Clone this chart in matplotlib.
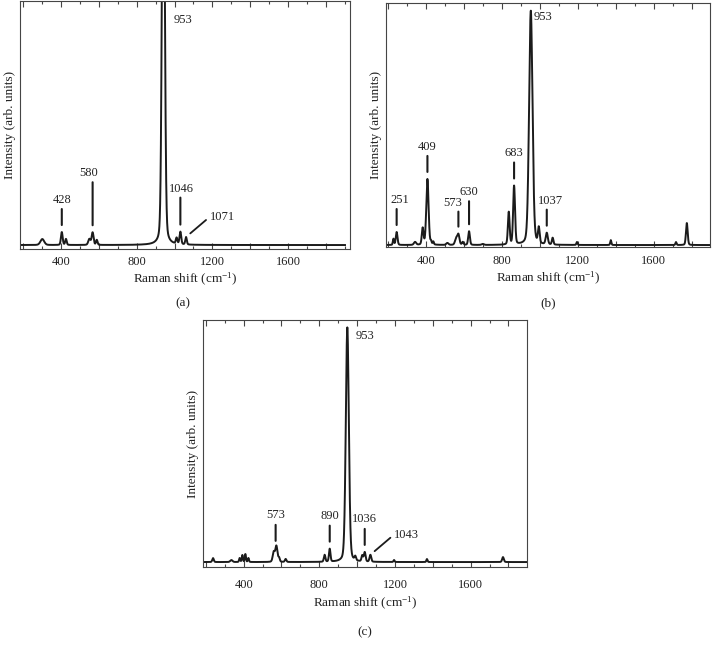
import numpy as np
import matplotlib.pyplot as plt
from matplotlib.ticker import MultipleLocator, FuncFormatter

plt.rcParams["font.family"] = ["Liberation Serif", "DejaVu Serif"]
plt.rcParams["mathtext.fontset"] = "custom"
plt.rcParams["mathtext.rm"] = "Liberation Serif"
plt.rcParams["mathtext.it"] = "Liberation Serif:italic"
plt.rcParams["mathtext.default"] = "regular"

INK = "#1b1b1b"
FRAME = "#454545"

# spectrum (a): peak centres (cm-1), heights (a.u.), widths (cm-1)
a_centres = [301, 404, 426, 550, 567, 589, 941, 1011, 1031, 1061]
a_heights = [2.4, 5.2, 2.4, 2.4, 5.0, 2.0, 200, 2.4, 5.0, 3.0]
a_widths = [10, 4.5, 4, 6, 5, 4, 7, 4, 4.5, 4]
a_base = 1.6
a_range = (185, 1902)

# spectrum (b)
b_centres = [230, 247, 344, 384, 409, 428, 440, 514, 560, 572, 595, 628, 700,
             837, 865, 953, 995, 1037, 1068, 1196, 1374, 1717, 1774]
b_heights = [2.5, 5.3, 1.2, 6.8, 27, 1.2, 1.2, 0.8, 2.6, 4.2, 1.2, 5.6, 0.4,
             13.3, 24, 96, 6.4, 4.7, 2.8, 1.2, 2.0, 1.2, 9.0]
b_widths = [3, 4.5, 6, 4.5, 6, 3, 3, 6, 6, 5.5, 4, 4.5, 6,
            4.5, 5, 9, 4.5, 5.5, 4, 3, 3, 3, 4.5]
b_base = 0.8
b_range = (191, 1896)

# spectrum (c)
c_centres = [238, 335, 379, 393, 409, 425, 559, 573, 587, 622, 828, 855,
             948, 990, 1027, 1040, 1070, 1195, 1369, 1771]
c_heights = [1.6, 0.8, 1.6, 2.8, 3.2, 1.6, 4.0, 6.4, 1.6, 1.2, 2.8, 5.2,
             95, 1.6, 2.4, 3.8, 2.8, 0.8, 1.2, 2.0]
c_widths = [4, 6, 3, 3, 3, 3, 5.5, 5.5, 4, 4, 4, 4,
            8, 4, 4, 4.5, 4.5, 3, 3, 4.5]
c_base = 2.0
c_range = (185, 1898)

# band labels: text, band position, stick length (px)
a_labels = ["428", "580", "1046"]
a_label_pos = [404, 567, 1031]
a_sticks = [16, 43, 27]
b_labels = ["251", "409", "573", "630", "683", "1037"]
b_label_pos = [247, 409, 572, 628, 865, 1037]
b_sticks = [16, 16, 15, 23, 16, 16]
c_labels = ["573", "890", "1036"]
c_label_pos = [569, 855, 1040]
c_sticks = [16, 16, 16]


def spectrum(x, centres, heights, widths, base):
    y = np.full_like(x, base)
    for c, h, w in zip(centres, heights, widths):
        u = (x - c) / w
        y += h * (0.78 * np.exp(-0.5 * u ** 2) + 0.22 / (1 + (u / 1.18) ** 2))
    return y


def make_axes(fig, left, top, right, bottom):
    W, H = 712, 645
    return fig.add_axes([left / W, 1 - bottom / H, (right - left) / W, (bottom - top) / H])


def style_axes(ax, xlim, tick_pad=4.5, xlabel_pad=2):
    ax.set_xlim(*xlim)
    ax.set_ylim(0, 100)
    ax.set_yticks([])
    ax.xaxis.set_major_locator(MultipleLocator(200))
    ax.xaxis.set_minor_locator(MultipleLocator(100))
    ax.xaxis.set_major_formatter(FuncFormatter(lambda v, p: f"{v:.0f}" if v % 400 == 0 else ""))
    ax.tick_params(axis="x", which="both", direction="in", top=True, bottom=True,
                   color=FRAME, width=0.8, labelsize=9, pad=tick_pad, labelcolor="#222")
    ax.tick_params(axis="x", which="major", length=4)
    ax.tick_params(axis="x", which="minor", length=2.5)
    for s in ax.spines.values():
        s.set_color(FRAME)
        s.set_linewidth(0.8)
    ax.set_xlabel(r"Raman shift (cm$^{-1}$)", fontsize=9.5, labelpad=xlabel_pad, color="#222")
    ax.set_ylabel("Intensity (arb. units)", fontsize=9.5, labelpad=3, color="#222")


def stick_labels(ax, xs, ys, labels, positions, sticks, gap=7, lift=9, shifts=None):
    for i, (lab, pos, L) in enumerate(zip(labels, positions, sticks)):
        y0 = np.interp(pos, xs, ys)
        ax.annotate("", xy=(pos, y0), xytext=(0, gap + L), textcoords="offset pixels",
                    arrowprops=dict(arrowstyle="-", lw=1.5, color=INK,
                                    shrinkA=0, shrinkB=gap * 0.72))
        dx = shifts[i] if shifts else 0
        ax.annotate(lab, xy=(pos, y0), xytext=(dx, gap + L + lift), textcoords="offset pixels",
                    ha="center", va="center", fontsize=9, color="#222")


def side_label(ax, xs, ys, lab, pos):
    y0 = np.interp(pos, xs, ys)
    ax.annotate("", xy=(pos, y0), xytext=(20, 17), textcoords="offset pixels",
                arrowprops=dict(arrowstyle="-", lw=1.3, color=INK, shrinkA=0, shrinkB=4))
    ax.annotate(lab, xy=(pos, y0), xytext=(24, 20), textcoords="offset pixels",
                ha="left", va="center", fontsize=9, color="#222")


def top_label(ax, pos, dx, dy):
    ax.annotate("953", xy=(pos, 1.0), xycoords=("data", "axes fraction"),
                xytext=(dx, -dy), textcoords="offset pixels",
                ha="left", va="center", fontsize=9, color="#222")


def main():
    fig = plt.figure(figsize=(7.12, 6.45), dpi=100)

    # (a)
    ax = make_axes(fig, 20, 1, 350, 249)
    xs = np.arange(a_range[0], a_range[1], 0.5)
    ys = spectrum(xs, a_centres, a_heights, a_widths, a_base)
    ax.plot(xs, ys, color=INK, lw=1.4)
    style_axes(ax, (183, 1928), tick_pad=5, xlabel_pad=2)
    stick_labels(ax, xs, ys, a_labels, a_label_pos, a_sticks, lift=9, shifts=[0, -4, 1])
    side_label(ax, xs, ys, "1071", 1061)
    top_label(ax, 941, 10, 19)

    # (b)
    ax = make_axes(fig, 386, 3, 710, 247)
    xs = np.arange(b_range[0], b_range[1], 0.5)
    ys = spectrum(xs, b_centres, b_heights, b_widths, b_base)
    ax.plot(xs, ys, color=INK, lw=1.4)
    style_axes(ax, b_range, tick_pad=6, xlabel_pad=2)
    stick_labels(ax, xs, ys, b_labels, b_label_pos, b_sticks, lift=9, shifts=[3, 0, -6, 0, 0, 4])
    top_label(ax, 953, 3, 14)

    # (c)
    ax = make_axes(fig, 203, 320, 527, 567)
    xs = np.arange(c_range[0], c_range[1], 0.5)
    ys = spectrum(xs, c_centres, c_heights, c_widths, c_base)
    ax.plot(xs, ys, color=INK, lw=1.4)
    style_axes(ax, c_range, tick_pad=8.5, xlabel_pad=3)
    stick_labels(ax, xs, ys, c_labels, c_label_pos, c_sticks, lift=10)
    side_label(ax, xs, ys, "1043", 1070)
    top_label(ax, 948, 8, 16)

    for tag, px, py in [("(a)", 183, 303), ("(b)", 548, 303), ("(c)", 365, 632)]:
        fig.text(px / 712, 1 - py / 645, tag, ha="center", va="center", fontsize=9.5, color="#222")

    fig.savefig("out.png", dpi=100)


if __name__ == "__main__":
    main()
